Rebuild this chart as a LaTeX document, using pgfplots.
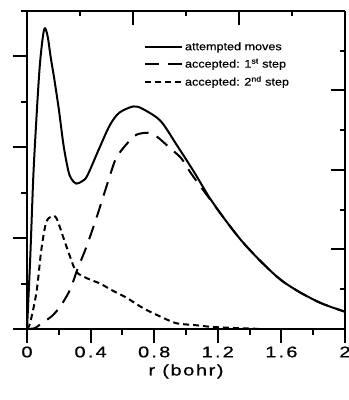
\documentclass[border=0pt]{standalone}
\usepackage{fontspec}
\setmainfont{Liberation Sans}
\newfontfamily\tickfont[FakeStretch=1.3,LetterSpace=14,FakeBold=0.6]{Liberation Sans}
\newfontfamily\labfont[FakeStretch=1.3,LetterSpace=10,FakeBold=0.6]{Liberation Sans}
\newfontfamily\legfont[FakeStretch=1.15,FakeBold=0.5]{Liberation Sans}
\usepackage{pgfplots}
\pgfplotsset{compat=1.18}
\begin{document}
\begin{tikzpicture}
\begin{axis}[
  width=318bp,height=318bp,scale only axis,
  xmin=0,xmax=2,ymin=0,ymax=3.5,
  axis x line*=bottom, axis y line*=left,
  axis line style={line width=2bp,-},
  xtick={0,0.4,0.8,1.2,1.6,2},
  xticklabels={0,0.4,0.8,1.2,1.6,2},
  minor xtick={0.2,0.6,1.0,1.4,1.8},
  ytick={0,1,2,3}, yticklabels={},
  minor ytick={0.5,1.5,2.5,3.5},
  tick align=outside,
  major tick length=14bp, minor tick length=6bp,
  major tick style={line width=2bp,black},
  minor tick style={line width=2bp,black},
  /pgf/number format/assume math mode=true,
  xticklabel style={font=\tickfont\fontsize{15.5}{15.5}\selectfont},
  xlabel={r (bohr)},
  xlabel style={font=\labfont\fontsize{15.5}{15.5}\selectfont},
  legend image code/.code={\draw[#1] (0bp,0bp) -- (37bp,0bp);},
  legend style={draw=none, fill=none, at={(axis cs:0.735,3.18)}, anchor=north west,
    font=\legfont\fontsize{11}{12}\selectfont, inner sep=0pt,
    row sep=3bp, cells={anchor=west},
    /tikz/every even column/.append style={column sep=6bp}},
]
\coordinate (SW) at (rel axis cs:0,0);
\coordinate (NE) at (rel axis cs:1,1);
\addplot[black, line width=2bp, smooth, tension=0.5] coordinates {
(0,0) (0.02,0.77) (0.04,1.69) (0.06,2.34) (0.08,2.89) (0.10,3.22) (0.113,3.31)
(0.13,3.22) (0.15,2.98) (0.17,2.77) (0.20,2.42) (0.23,2.02) (0.26,1.74) (0.28,1.65)
(0.31,1.60) (0.35,1.63) (0.38,1.69) (0.45,1.97) (0.52,2.24) (0.58,2.38) (0.67,2.45)
(0.73,2.42) (0.84,2.29) (0.94,2.03) (1.05,1.73) (1.15,1.44) (1.26,1.17) (1.35,0.97)
(1.45,0.78) (1.55,0.61) (1.62,0.51) (1.72,0.40) (1.83,0.30) (1.9,0.25) (2.0,0.19)
};
\addlegendentry{attempted moves}
\addplot[black, line width=2bp, dash pattern=on 14bp off 9bp, smooth, tension=0.5] coordinates {
(0,0) (0.05,0.01) (0.09,0.06) (0.155,0.14) (0.21,0.25) (0.27,0.43) (0.32,0.67)
(0.375,0.91) (0.44,1.24) (0.50,1.57) (0.555,1.86) (0.60,1.98) (0.65,2.08) (0.69,2.14)
(0.76,2.16) (0.815,2.12) (0.90,1.99) (0.97,1.88) (1.025,1.73) (1.07,1.62) (1.15,1.43)
(1.26,1.17) (1.35,0.97) (1.45,0.78) (1.55,0.61) (1.62,0.51) (1.72,0.40) (1.83,0.30)
(1.9,0.25) (2.0,0.19)
};
\addlegendentry{accepted: 1\textsuperscript{st} step}
\addplot[black, line width=2bp, dash pattern=on 6bp off 4bp, smooth, tension=0.5] coordinates {
(0,0) (0.02,0.07) (0.06,0.41) (0.09,0.87) (0.12,1.17) (0.155,1.24) (0.185,1.22)
(0.23,1.00) (0.27,0.80) (0.31,0.63) (0.375,0.56) (0.46,0.50) (0.52,0.44) (0.575,0.39)
(0.63,0.34) (0.73,0.23) (0.84,0.136) (0.94,0.063) (1.05,0.044) (1.15,0.025)
(1.265,0.014) (1.4,0.005) (1.48,0.0)
};
\addlegendentry{accepted: 2\textsuperscript{nd} step}
\end{axis}
\begin{axis}[
  width=318bp,height=318bp,scale only axis,
  xmin=0,xmax=3,ymin=0,ymax=4,
  axis x line*=top, axis y line*=right,
  axis line style={line width=2bp,-},
  xtick={0,1,2,3}, xticklabels={},
  minor xtick={0.5,1.5,2.5},
  ytick={0,1,2,3,4}, yticklabels={},
  minor ytick={0.5,1.5,2.5,3.5},
  tick align=inside,
  major tick length=14bp, minor tick length=5bp,
  major tick style={line width=2bp,black},
  minor tick style={line width=2bp,black},
]
\end{axis}
\pgfresetboundingbox
\path[use as bounding box] ([xshift=-27bp,yshift=-71bp]SW) rectangle ([xshift=4bp,yshift=11bp]NE);
\end{tikzpicture}
\end{document}
